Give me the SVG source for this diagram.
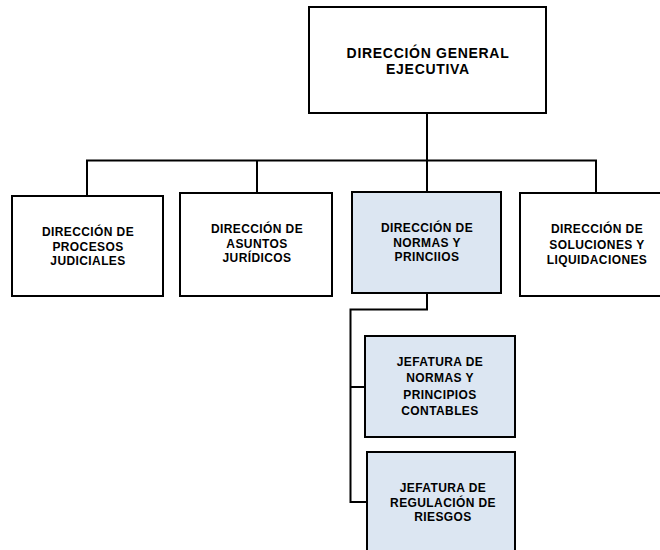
<svg xmlns="http://www.w3.org/2000/svg" width="660" height="550" viewBox="0 0 660 550">
<style>
.box{stroke:#000;stroke-width:2;fill:#fff}
.blue{fill:#dce6f2}
.t{font-family:"Liberation Sans",Arial,sans-serif;font-weight:bold;font-size:12px;text-anchor:middle;fill:#000;letter-spacing:0.4px}
.big{font-size:14px;letter-spacing:0.7px}
.c{stroke:#000;stroke-width:2;fill:none}
</style>
<rect width="660" height="550" fill="#fff"/>
<g id="connectors">
<path class="c" d="M427 113 V192"/>
<path class="c" d="M87 196 V160.5 H596 V193"/>
<path class="c" d="M257 160.5 V193"/>
<path class="c" d="M427 293 V309.5 H350.5 V502 H367"/>
<path class="c" d="M350.5 387 H365"/>
</g>
<g id="n0">
<rect class="box" x="309" y="7" width="237" height="106"/>
<text class="t big" x="428" y="58">DIRECCIÓN GENERAL</text>
<text class="t big" x="428" y="74">EJECUTIVA</text>
</g>
<g id="n1">
<rect class="box" x="12" y="196" width="151" height="100"/>
<text class="t" x="88" y="236">DIRECCIÓN DE</text>
<text class="t" x="88" y="250.5">PROCESOS</text>
<text class="t" x="88" y="265">JUDICIALES</text>
</g>
<g id="n2">
<rect class="box" x="180" y="193" width="152" height="103"/>
<text class="t" x="257" y="233">DIRECCIÓN DE</text>
<text class="t" x="257" y="247.5">ASUNTOS</text>
<text class="t" x="257" y="262">JURÍDICOS</text>
</g>
<g id="n3">
<rect class="box blue" x="352" y="192" width="149" height="101"/>
<text class="t" x="427" y="232">DIRECCIÓN DE</text>
<text class="t" x="427" y="246.5">NORMAS Y</text>
<text class="t" x="427" y="261">PRINCIIOS</text>
</g>
<g id="n4">
<rect class="box" x="520" y="193" width="145" height="103"/>
<text class="t" x="597" y="233">DIRECCIÓN DE</text>
<text class="t" x="597" y="248.5">SOLUCIONES Y</text>
<text class="t" x="597" y="264">LIQUIDACIONES</text>
</g>
<g id="n5">
<rect class="box blue" x="365" y="336" width="150" height="101"/>
<text class="t" x="440" y="366">JEFATURA DE</text>
<text class="t" x="440" y="382">NORMAS Y</text>
<text class="t" x="440" y="398.5">PRINCIPIOS</text>
<text class="t" x="440" y="415">CONTABLES</text>
</g>
<g id="n6">
<rect class="box blue" x="367" y="452" width="148" height="110"/>
<text class="t" x="443" y="492">JEFATURA DE</text>
<text class="t" x="443" y="506.5">REGULACIÓN DE</text>
<text class="t" x="443" y="521">RIESGOS</text>
</g>
</svg>
